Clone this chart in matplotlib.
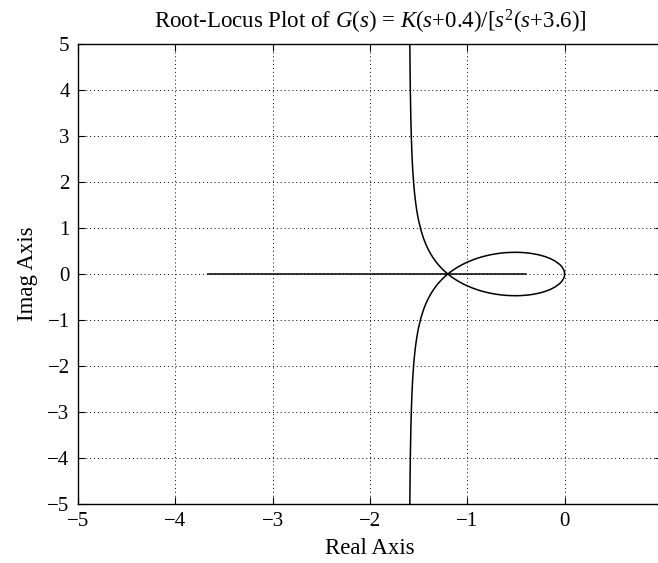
import matplotlib
matplotlib.use('Agg')
import matplotlib.pyplot as plt

# Root locus branches (upper half; lower half is the mirror)
loop_re = [0, -0.001, -0.002, -0.005, -0.01, -0.02, -0.03, -0.05, -0.1, -0.15,
           -0.2, -0.25, -0.3, -0.35, -0.4, -0.45, -0.5, -0.55, -0.6, -0.65,
           -0.7, -0.75, -0.8, -0.85, -0.9, -0.95, -1.0, -1.05, -1.1, -1.15, -1.2]
loop_im = [0, 0.030, 0.042, 0.067, 0.093, 0.131, 0.162, 0.207, 0.284, 0.338,
           0.378, 0.409, 0.432, 0.450, 0.462, 0.469, 0.472, 0.470, 0.465, 0.455,
           0.441, 0.423, 0.400, 0.373, 0.340, 0.302, 0.258, 0.207, 0.148, 0.080, 0]

asym_re = [-1.2, -1.225, -1.25, -1.275, -1.3, -1.325, -1.35, -1.375, -1.4, -1.425,
           -1.45, -1.475, -1.5, -1.51, -1.52, -1.53, -1.54, -1.545, -1.55, -1.56,
           -1.565, -1.57, -1.575, -1.58, -1.585, -1.5875, -1.59, -1.592]
asym_im = [0, 0.045, 0.094, 0.149, 0.208, 0.274, 0.349, 0.433, 0.529, 0.642,
           0.777, 0.945, 1.162, 1.270, 1.395, 1.543, 1.723, 1.829, 1.949, 2.248,
           2.441, 2.677, 2.976, 3.378, 3.958, 4.367, 4.918, 5.53]

real_re = [-3.66, -0.4]
real_im = [0, 0]

x_ticks = [-5, -4, -3, -2, -1, 0]
y_ticks = [-5, -4, -3, -2, -1, 0, 1, 2, 3, 4, 5]

plt.rcParams['font.family'] = 'Liberation Serif'
plt.rcParams['mathtext.fontset'] = 'custom'
plt.rcParams['mathtext.rm'] = 'Liberation Serif'
plt.rcParams['mathtext.it'] = 'Liberation Serif:italic'
plt.rcParams['font.size'] = 15

fig = plt.figure(figsize=(6.58, 5.63), dpi=100)
ax = fig.add_axes([0.1185, 0.1048, 0.8875, 0.817])

lw = 1.1
ax.plot(real_re, real_im, 'k-', linewidth=lw)
ax.plot(loop_re, loop_im, 'k-', linewidth=lw)
ax.plot(loop_re, [-v for v in loop_im], 'k-', linewidth=lw)
ax.plot(asym_re, asym_im, 'k-', linewidth=lw)
ax.plot(asym_re, [-v for v in asym_im], 'k-', linewidth=lw)

ax.set_xlim(-5, 1)
ax.set_ylim(-5, 5)
ax.set_xticks(x_ticks)
ax.set_yticks(y_ticks)
ax.grid(True, color='black', linestyle=(0, (1, 3)), linewidth=0.7)
ax.tick_params(direction='in', top=True, right=True, length=5, width=0.8,
               labelsize=15, pad=6)
for sp in ax.spines.values():
    sp.set_linewidth(1.0)

ax.set_title(r'Root-Locus Plot of $G(s)$ = $K(s$+0.4)/[$s^2(s$+3.6)]',
             fontsize=16.5, pad=11)
ax.set_xlabel('Real Axis', fontsize=16.5, labelpad=5)
ax.set_ylabel('Imag Axis', fontsize=16.5, labelpad=7)

fig.savefig('out.png', dpi=100)
